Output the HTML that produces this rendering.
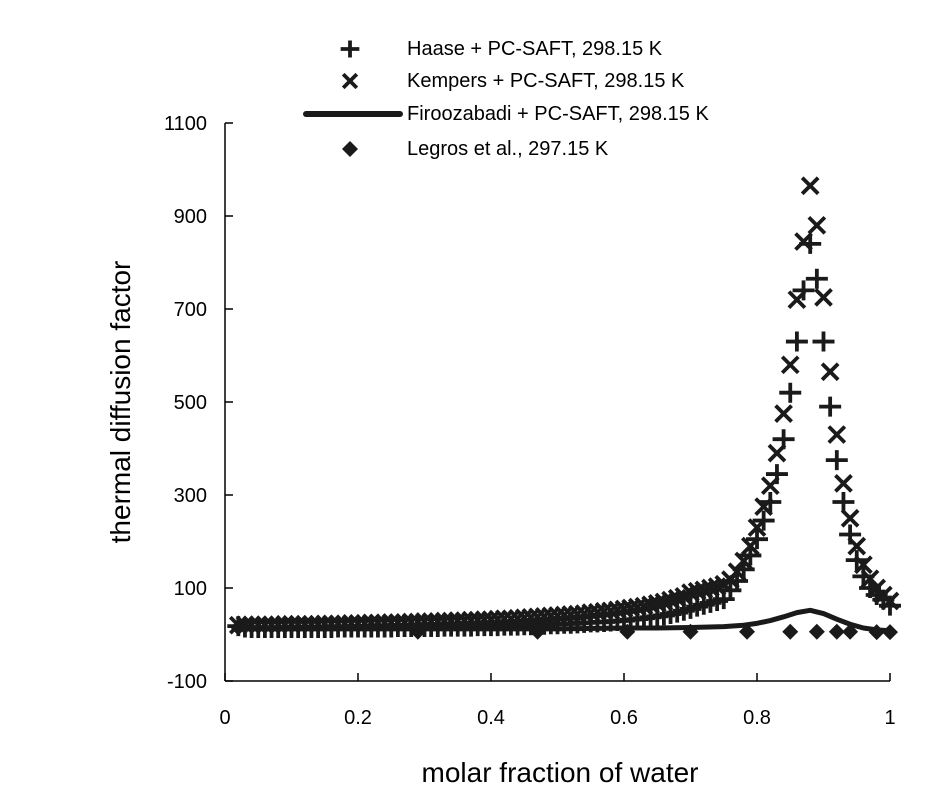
<!DOCTYPE html>
<html><head><meta charset="utf-8"><style>
body{margin:0;background:#fff}
svg{display:block;font-family:"Liberation Sans",Arial,sans-serif}
</style></head><body>
<svg id="c" width="932" height="801"></svg>
<script>
const xGrid=[];for(let i=2;i<=100;i++)xGrid.push(i/100);
const haase=[18,15,14,14,14,14,14,14,14,
14,14,14,14,14,14,15,15,15,15,
15,15,15,15,15,16,16,16,16,16,
16,16,17,17,17,17,17,18,18,18,
18,19,19,19,20,20,21,21,22,22,
23,23,24,25,26,26,27,28,29,30,
32,33,35,37,39,41,44,47,51,55,
60,64,68,72,76,95,115,140,170,205,
245,285,345,420,520,630,740,840,765,630,
490,375,285,215,160,125,100,85,75,62];
const kempers=[20,21,21,21,21,21,21,22,22,
22,22,22,22,23,23,23,23,24,24,
24,25,25,25,26,26,26,27,27,28,
28,28,29,29,30,30,31,31,32,32,
33,34,34,35,36,37,38,39,40,41,
42,43,44,45,47,48,50,51,53,55,
57,59,61,64,67,70,74,78,82,90,
93,96,100,103,108,118,135,158,190,230,
275,320,390,475,580,720,845,965,880,725,
565,430,325,250,190,150,120,100,85,72];
const firX=[0.02,0.1,0.2,0.3,0.4,0.5,0.6,0.65,0.7,0.75,0.78,0.8,0.82,0.84,0.86,0.88,0.9,0.92,0.94,0.96,0.98,1.0];
const firY=[12,12,12,12,12,12,14,14,15,17,20,24,30,38,47,52,45,33,22,14,10,8];
const legX=[0.02,0.29,0.47,0.605,0.70,0.785,0.85,0.89,0.92,0.94,0.98,1.0];
const legY=[15,6,6,6,6,6,6,6,6,6,5,5];
const xTicks=[0,0.2,0.4,0.6,0.8,1];
const xTickLabels=["0","0.2","0.4","0.6","0.8","1"];
const yTicks=[-100,100,300,500,700,900,1100];

const NS="http://www.w3.org/2000/svg",svg=document.getElementById('c');
const X=v=>225+v*665, Y=v=>681-(v+100)*0.465;
function mk(t,a,p){const e=document.createElementNS(NS,t);for(const k in a)e.setAttribute(k,a[k]);(p||svg).appendChild(e);return e;}
const ax=mk('g',{});


mk('line',{x1:225,y1:123,x2:225,y2:681,stroke:'#000','stroke-width':1.5},ax);
mk('line',{x1:225,y1:681,x2:890,y2:681,stroke:'#000','stroke-width':1.5},ax);
yTicks.forEach(v=>{mk('line',{x1:225,x2:233,y1:Y(v),y2:Y(v),stroke:'#000','stroke-width':1.5},ax);
 const t=mk('text',{x:207,y:Y(v)+7,'text-anchor':'end','font-size':20},ax);t.textContent=v;
 
 });
xTicks.forEach((v,i)=>{mk('line',{x1:X(v),x2:X(v),y1:681,y2:673,stroke:'#000','stroke-width':1.5},ax);
 const t=mk('text',{x:X(v),y:724,'text-anchor':'middle','font-size':20},ax);t.textContent=xTickLabels[i];
 
 });
const yt=mk('text',{x:0,y:0,transform:'translate(130,402) rotate(-90)','text-anchor':'middle','font-size':28});yt.textContent='thermal diffusion factor';


const xt=mk('text',{x:560,y:782,'text-anchor':'middle','font-size':28});xt.textContent='molar fraction of water';



function plus(g,cx,cy,s){s=s||1;mk('path',{d:`M${cx-11*s} ${cy}H${cx+11*s}M${cx} ${cy-10*s}V${cy+10*s}`,stroke:'#1a1a1a','stroke-width':3.8,fill:'none'},g);}
function cross(g,cx,cy,s){s=s||1;mk('path',{d:`M${cx-8*s} ${cy-8*s}L${cx+8*s} ${cy+8*s}M${cx+8*s} ${cy-8*s}L${cx-8*s} ${cy+8*s}`,stroke:'#1a1a1a','stroke-width':3.8,fill:'none'},g);}
function dia(g,cx,cy){mk('path',{d:`M${cx} ${cy-8}L${cx+8} ${cy}L${cx} ${cy+8}L${cx-8} ${cy}Z`,fill:'#1a1a1a'},g);}

const gf=mk('g',{});


mk('polyline',{points:firX.map((x,i)=>X(x)+','+Y(firY[i])).join(' '),fill:'none',stroke:'#1a1a1a','stroke-width':5,'stroke-linejoin':'round'},gf);
const gh=mk('g',{});


xGrid.forEach((x,i)=>plus(gh,X(x),Y(haase[i])));
const gk=mk('g',{});


xGrid.forEach((x,i)=>cross(gk,X(x),Y(kempers[i])));
const gl=mk('g',{});


legX.forEach((x,i)=>dia(gl,X(x),Y(legY[i])));

const lg=mk('g',{});


const labels=['Haase + PC-SAFT, 298.15 K','Kempers + PC-SAFT, 298.15 K','Firoozabadi + PC-SAFT, 298.15 K','Legros et al., 297.15 K'];
const ly=[49,81,114,149];
plus(lg,350,ly[0],0.85);cross(lg,350,ly[1],0.85);
mk('line',{x1:306,x2:400,y1:ly[2],y2:ly[2],stroke:'#1a1a1a','stroke-width':6,'stroke-linecap':'round'},lg);
dia(lg,350,ly[3]);
labels.forEach((s,i)=>{const t=mk('text',{x:407,y:ly[i]+6,'font-size':20},lg);t.textContent=s;
 
 });
</script>
</body></html>
